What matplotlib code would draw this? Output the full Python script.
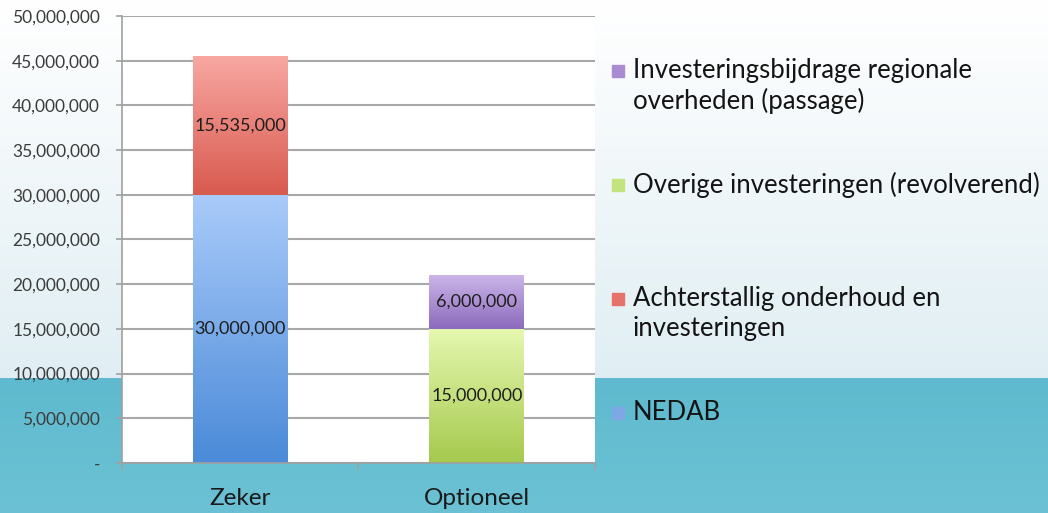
import numpy as np
import matplotlib
matplotlib.use("Agg")
import matplotlib.pyplot as plt
from matplotlib.colors import LinearSegmentedColormap, to_rgb
from matplotlib.patches import Rectangle
from matplotlib.ticker import FuncFormatter

plt.rcParams["font.family"] = ["Lato", "DejaVu Sans"]

categories = ["Zeker", "Optioneel"]
series_names = [
    "NEDAB",
    "Achterstallig onderhoud en\ninvesteringen",
    "Overige investeringen (revolverend)",
    "Investeringsbijdrage regionale\noverheden (passage)",
]
nedab = [30_000_000, 0]
achterstallig = [15_535_000, 0]
overige = [0, 15_000_000]
regionaal = [0, 6_000_000]
series_values = [nedab, achterstallig, overige, regionaal]

# (top colour, bottom colour) of each gradient
GRAD = [
    ("#aacbfa", "#4a8ad8"),
    ("#f8a7a2", "#d85a4f"),
    ("#e6f8b0", "#a5c94d"),
    ("#cbb5e8", "#8c6abd"),
]
LEGEND_COL = ["#7ea7e6", "#e6736b", "#c3e37e", "#a98bd3"]


def background(fig):
    bg = fig.add_axes([0, 0, 1, 1], zorder=-10)
    n = 513
    img = np.zeros((n, 1, 3))
    split = 378
    top = np.array(to_rgb("#ffffff"))
    mid = np.array(to_rgb("#e0eef3"))
    for i in range(n):
        if i < split:
            t = i / split
            img[i, 0] = top * (1 - t) + mid * t
        else:
            t = (i - split) / (n - split)
            img[i, 0] = np.array(to_rgb("#5fbacf")) * (1 - t) + np.array(to_rgb("#6cc2d4")) * t
    bg.imshow(img, aspect="auto", extent=(0, 1, 0, 1))
    bg.set_axis_off()


fig = plt.figure(figsize=(10.48, 5.13), dpi=100)
background(fig)
ax = fig.add_axes([0.1164, 0.0975, 0.4513, 0.8713])
ax.set_facecolor("white")
ax.set_axisbelow(True)

x = np.arange(len(categories))
bottom = np.zeros(len(categories))
for vals, (ctop, cbot) in zip(series_values, GRAD):
    vals = np.array(vals, dtype=float)
    bars = ax.bar(x, vals, width=0.4, bottom=bottom, color="none", zorder=2)
    cmap = LinearSegmentedColormap.from_list("g", [cbot, ctop])
    grad = np.linspace(0, 1, 256)[:, None]
    for b, v in zip(bars, vals):
        if v <= 0:
            continue
        ax.imshow(grad, extent=(b.get_x(), b.get_x() + b.get_width(),
                                b.get_y(), b.get_y() + b.get_height()),
                  origin="lower", cmap=cmap, aspect="auto", zorder=2)
    labels = [f"{v:,.0f}" if v > 0 else "" for v in vals]
    ax.bar_label(bars, labels=labels, label_type="center", fontsize=13,
                 color="#1e1e1e", zorder=4)
    bottom += vals

ax.set_xlim(-0.5, 1.5)
ax.set_ylim(0, 50_000_000)
ax.set_yticks(np.arange(0, 50_000_001, 5_000_000))
ax.yaxis.set_major_formatter(FuncFormatter(lambda v, p: "-" if v == 0 else f"{v:,.0f}"))
ax.tick_params(axis="y", length=4.3, width=1.2, color="#a0a0a0", labelcolor="#3c3c3c",
               labelsize=12.5, pad=11.5)
ax.grid(axis="y", color="#a8a8a8", lw=1.5)

ax.set_xticks(x)
ax.set_xticklabels(categories, fontsize=17.5, color="#1a1a1a")
ax.tick_params(axis="x", length=0, pad=18)
ax.set_xticks([-0.5, 0.5, 1.5], minor=True)
ax.tick_params(axis="x", which="minor", length=5, width=1.2, color="#a0a0a0")

for s in ["top", "right"]:
    ax.spines[s].set_visible(False)
for s in ["left", "bottom"]:
    ax.spines[s].set_color("#a0a0a0")
    ax.spines[s].set_linewidth(1.2)

# legend, drawn in the same order as the reference (top = last series)
legend_y = [71, 185, 299, 413]
for name, col, yc in zip(series_names[::-1], LEGEND_COL[::-1], legend_y):
    yf = 1 - yc / 513
    fig.patches.append(Rectangle((612 / 1048, yf - 6 / 513), 12 / 1048, 12 / 513,
                                 transform=fig.transFigure, color=col, figure=fig))
    fig.text(633 / 1048, yf + 13 / 513, name, fontsize=18.5, va="top", ha="left",
             color="#141414", linespacing=1.25)

fig.savefig("out.png", dpi=100)
